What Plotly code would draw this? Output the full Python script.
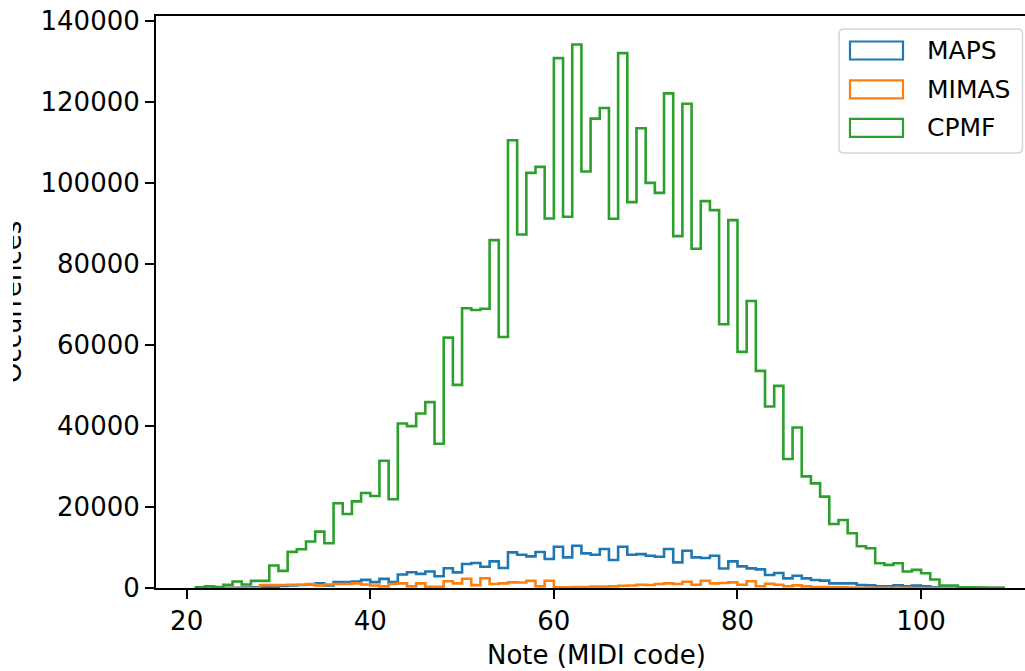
import plotly.graph_objects as go

# MIDI notes covered by the histogram (one bin per note, edges at integers)
notes = list(range(21, 109))

maps_counts = [
    0, 0, 0, 50, 80, 100, 150, 250, 350, 500,            # 21-30
    600, 750, 860, 1190, 620, 1440, 1440, 1600, 2010, 1440,  # 31-40
    2260, 1440, 3330, 3900, 3490, 4070, 2920, 4890, 3860, 5920,  # 41-50
    6170, 5260, 6580, 4930, 8800, 8220, 7810, 8880, 7150, 10190,  # 51-60
    7560, 10440, 8550, 8220, 9620, 6900, 10190, 8220, 8380, 7970,  # 61-70
    7730, 9620, 6330, 9210, 7560, 7400, 7970, 4800, 6580, 5340,  # 71-80
    4850, 4600, 3210, 3700, 2380, 3040, 2380, 1970, 1810, 1150,  # 81-90
    1150, 1150, 740, 660, 410, 410, 660, 410, 580, 410,    # 91-100
    160, 100, 60, 40, 20, 0, 0, 0,                          # 101-108
]

mimas_counts = [
    0, 0, 0, 0, 0, 0, 0, 700, 700, 750,                     # 21-30
    800, 820, 1000, 600, 850, 1000, 1000, 1150, 850, 600,   # 31-40
    400, 1000, 1150, 400, 1150, 300, 300, 1650, 1150, 2300,  # 41-50
    700, 2400, 1000, 1150, 1400, 1350, 1750, 400, 1800, 150,  # 51-60
    150, 250, 250, 330, 350, 400, 550, 600, 800, 750,       # 61-70
    1000, 1150, 1000, 1550, 800, 1800, 1150, 1250, 1400, 800,  # 71-80
    1650, 450, 1050, 800, 450, 650, 400, 250, 250, 200,     # 81-90
    150, 100, 80, 50, 40, 30, 20, 20, 10, 10,               # 91-100
    0, 0, 0, 0, 0, 0, 0, 0,                                  # 101-108
]

cpmf_counts = [
    150, 400, 250, 780, 1600, 860, 1770, 1770, 5550, 4230,  # 21-30
    8920, 9580, 11470, 13930, 11060, 20920, 18290, 21410, 23470, 22730,  # 31-40
    31440, 21910, 40650, 39990, 43110, 45910, 35630, 61850, 50180, 69100,  # 41-50
    68680, 69000, 85940, 62020, 110600, 87340, 102540, 104020, 91290, 130900,  # 51-60
    91700, 134270, 102880, 115950, 118580, 91200, 132130, 95310, 113560, 100070,  # 61-70
    97600, 122190, 86930, 119640, 83800, 95560, 93340, 65150, 90870, 58320,  # 71-80
    70900, 53640, 44840, 49940, 31850, 39660, 27580, 25850, 22560, 15820,  # 81-90
    16810, 13520, 10320, 9820, 6120, 5710, 6120, 4070, 4480, 3660,  # 91-100
    2100, 620, 620, 200, 200, 100, 50, 30,                   # 101-108
]

series = [
    ("MAPS", maps_counts, "#1f77b4"),
    ("MIMAS", mimas_counts, "#ff7f0e"),
    ("CPMF", cpmf_counts, "#2ca02c"),
]

y_ticks = [0, 20000, 40000, 60000, 80000, 100000, 120000, 140000]
x_ticks = [20, 40, 60, 80, 100]

FONT = "DejaVu Sans"
W, H = 1025, 671
L, R, T, B = 156, 1025, 16, 588   # plot area in pixels


def px_x(px):
    return (px - L) / (R - L)


def px_y(py):
    return (B - py) / (B - T)


fig = go.Figure()

# step outlines: start and finish on the baseline, like an unfilled step histogram
for name, counts, color in series:
    xs = [notes[0]] + notes + [notes[-1] + 1]
    ys = [0] + counts + [0]
    fig.add_trace(go.Scatter(
        x=xs, y=ys, mode="lines", name=name,
        line=dict(color=color, width=2.6, shape="hv"),
        showlegend=False, hoverinfo="skip",
    ))

shapes = []
annotations = []


def rounded_rect(x0, y0, x1, y1, r):
    # pixel box -> paper-coordinate path with rounded corners
    rx = r / (R - L)
    ry = r / (B - T)
    a, b = px_x(x0), px_x(x1)
    top, bot = px_y(y0), px_y(y1)
    return (f"M{a + rx},{top} L{b - rx},{top} Q{b},{top} {b},{top - ry} "
            f"L{b},{bot + ry} Q{b},{bot} {b - rx},{bot} "
            f"L{a + rx},{bot} Q{a},{bot} {a},{bot + ry} "
            f"L{a},{top - ry} Q{a},{top} {a + rx},{top} Z")


# legend frame
shapes.append(dict(
    type="path", xref="paper", yref="paper",
    path=rounded_rect(839, 29, 1022.5, 153, 5),
    fillcolor="rgba(255,255,255,0.8)",
    line=dict(color="#d5d5d5", width=1.5), layer="above",
))

legend_rows = [50.5, 89.3, 127.8]
for (name, _, color), yc in zip(series, legend_rows):
    shapes.append(dict(
        type="rect", xref="paper", yref="paper",
        x0=px_x(850), x1=px_x(903), y0=px_y(yc - 9), y1=px_y(yc + 9),
        fillcolor="white", line=dict(color=color, width=2.2), layer="above",
    ))
    annotations.append(dict(
        text=name, xref="paper", yref="paper",
        x=px_x(925), y=px_y(yc), xanchor="left", yanchor="middle",
        showarrow=False, font=dict(family=FONT, size=25, color="black"),
    ))

# axis titles
annotations.append(dict(
    text="Note (MIDI code)", xref="paper", yref="paper",
    x=px_x(596), y=px_y(655), xanchor="center", yanchor="middle",
    showarrow=False, font=dict(family=FONT, size=26, color="black"),
))
annotations.append(dict(
    text="Occurrences", xref="paper", yref="paper", textangle=-90,
    x=px_x(29), y=px_y(302), xanchor="right", yanchor="middle",
    showarrow=False, font=dict(family=FONT, size=26, color="black"),
))
# page edge band on the left
annotations.append(dict(
    text=" ", xref="paper", yref="paper",
    x=px_x(0), y=px_y(302), xanchor="left", yanchor="middle",
    width=13, height=240, bgcolor="white", borderpad=0, borderwidth=0,
    showarrow=False, font=dict(family=FONT, size=10),
))

axis_common = dict(
    showgrid=False, zeroline=False, showline=True, linecolor="black",
    linewidth=2, ticks="outside", ticklen=9, tickwidth=2, tickcolor="black",
    tickfont=dict(family=FONT, size=26, color="black"),
)

fig.update_layout(
    width=W, height=H,
    margin=dict(l=L, r=W - R, t=T, b=H - B, autoexpand=False),
    paper_bgcolor="white", plot_bgcolor="white",
    showlegend=False,
    shapes=shapes, annotations=annotations,
    xaxis=dict(range=[16.66, 111.32], tickvals=x_ticks, mirror=True,
               **axis_common),
    yaxis=dict(range=[0, 141300], tickvals=y_ticks, tickformat="d",
               **axis_common),
)

fig.write_html("out.html")
